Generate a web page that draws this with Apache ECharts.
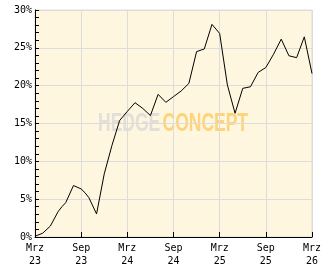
<!DOCTYPE html>
<html>
<head>
<meta charset="utf-8">
<script src="https://cdn.jsdelivr.net/npm/echarts@6/dist/echarts.min.js"></script>
<style>
html,body{margin:0;padding:0;background:#fff;}
#c{width:332px;height:269px;}
</style>
</head>
<body>
<div id="c"></div>
<script>
// Data (performance in %)
var dates = ['2023-03-01','2023-04-01','2023-05-01','2023-06-01','2023-06-16','2023-07-01','2023-08-01','2023-09-01','2023-09-16','2023-10-01','2023-11-01','2023-12-01',
  '2024-01-01','2024-02-01','2024-03-01','2024-04-01','2024-05-01','2024-06-01','2024-07-01','2024-08-01','2024-09-01','2024-10-01','2024-11-01','2024-12-01',
  '2025-01-01','2025-02-01','2025-03-01','2025-04-01','2025-05-01','2025-06-01','2025-07-01','2025-08-01','2025-09-01','2025-10-01','2025-11-01','2025-12-01',
  '2026-01-01','2026-02-01','2026-03-01'];
var values = [0.1,0.5,1.45,3.35,4.0,4.55,6.8,6.35,5.85,5.2,3.05,8.35,
  12.1,15.4,16.6,17.75,17.0,16.05,18.85,17.8,18.55,19.3,20.3,24.5,
  24.85,28.1,26.9,20.1,16.35,19.65,19.85,21.75,22.4,24.15,26.15,23.95,
  23.7,26.45,21.6];
var xTickLabels = ['Mrz\n23','Sep\n23','Mrz\n24','Sep\n24','Mrz\n25','Sep\n25','Mrz\n26'];
var yTickLabels = ['0%','5%','10%','15%','20%','25%','30%'];
var watermark = ['HEDGE','CONCEPT'];

function monthIndex(s){
  var p = s.split('-');
  return (+p[0]-2023)*12 + (+p[1]-3) + (+p[2]-1)/30;
}
var seriesData = dates.map(function(d,i){ return [monthIndex(d), values[i]]; });

var chart = echarts.init(document.getElementById('c'), null, {renderer:'canvas'});
var font = 'DejaVu Sans Mono';
chart.setOption({
  animation:false,
  backgroundColor:'#ffffff',
  grid:{left:35,top:10,right:20,bottom:32,show:true,backgroundColor:'#fef6de',borderColor:'#dcdcdc',borderWidth:1},
  xAxis:{
    type:'value',min:0,max:36,interval:6,
    axisLine:{lineStyle:{color:'#000',width:1}},
    axisTick:{inside:true,length:5,lineStyle:{color:'#000'}},
    splitLine:{show:true,lineStyle:{color:'#dcdcdc',width:1}},
    axisLabel:{
      color:'#000',fontFamily:font,fontSize:10,lineHeight:13,margin:5,
      formatter:function(v){ return xTickLabels[Math.round(v/6)]; }
    }
  },
  yAxis:{
    type:'value',min:0,max:30,interval:5,
    axisLine:{show:true,lineStyle:{color:'#000',width:1}},
    axisTick:{show:true,inside:true,length:4,lineStyle:{color:'#000'}},
    minorTick:{show:true,splitNumber:5,length:4,lineStyle:{color:'#000'}},
    splitLine:{show:true,lineStyle:{color:'#dcdcdc',width:1}},
    axisLabel:{
      color:'#000',fontFamily:font,fontSize:10,margin:3,
      formatter:function(v){ return yTickLabels[Math.round(v/5)]; }
    }
  },
  graphic:[{
    type:'group',x:98,y:112,z:1,
    children:[
      {type:'text',x:0,y:0,scaleX:0.7,style:{text:watermark[0],font:'bold 25px "Liberation Sans"',fill:'#e1dfd8',textVerticalAlign:'top'}},
      {type:'text',x:64.5,y:0,scaleX:0.7,style:{text:watermark[1],font:'bold 25px "Liberation Sans"',fill:'#fdd47c',textVerticalAlign:'top'}}
    ]
  }],
  series:[{
    type:'line',data:seriesData,showSymbol:false,z:5,
    lineStyle:{color:'#000',width:1},
    emphasis:{disabled:true}
  }]
});
</script>
</body>
</html>
